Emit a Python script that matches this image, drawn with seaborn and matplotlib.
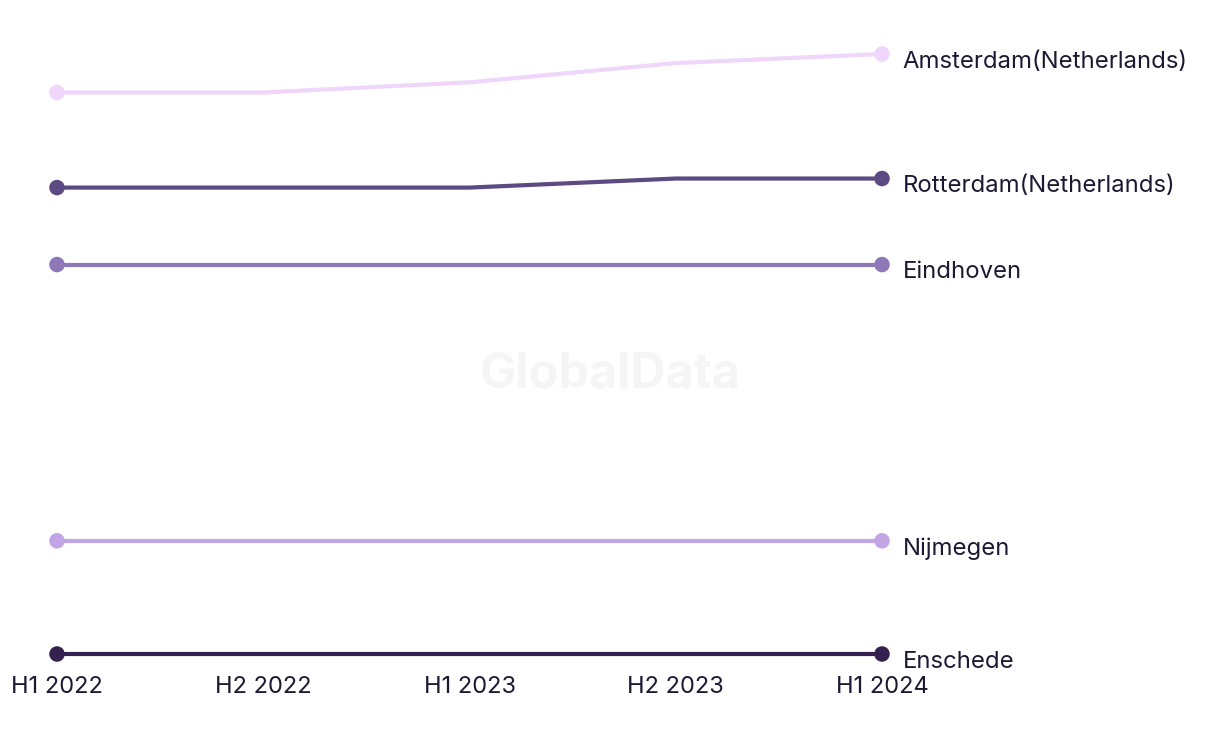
import numpy as np
import pandas as pd
import matplotlib.pyplot as plt
import seaborn as sns

# Chart values (index)
periods = ['H1 2022', 'H2 2022', 'H1 2023', 'H2 2023', 'H1 2024']
cities = ['Amsterdam(Netherlands)', 'Rotterdam(Netherlands)', 'Eindhoven', 'Nijmegen', 'Enschede']
amsterdam = [54.6, 54.6, 55.5, 57.2, 58.0]
rotterdam = [46.2, 46.2, 46.2, 47.0, 47.0]
eindhoven = [39.4, 39.4, 39.4, 39.4, 39.4]
nijmegen = [15.0, 15.0, 15.0, 15.0, 15.0]
enschede = [5.0, 5.0, 5.0, 5.0, 5.0]
colors = ['#f0d6fb', '#5c4a82', '#8e78b7', '#c2a5e4', '#35214f']

series = [amsterdam, rotterdam, eindhoven, nijmegen, enschede]
rows = []
for city, vals in zip(cities, series):
    for i, v in enumerate(vals):
        rows.append({'city': city, 'pos': i, 'period': periods[i], 'value': v})
data = pd.DataFrame(rows)

sns.set_style('white')
plt.rcParams['font.family'] = ['Inter', 'DejaVu Sans']
text_color = '#1c1a33'

fig = plt.figure(figsize=(12.2, 7.44), dpi=100)
ax = fig.add_axes([57 / 1220, 90 / 744, 825 / 1220, 600 / 744])

sns.lineplot(data=data, x='pos', y='value', hue='city', hue_order=cities,
             palette=colors, linewidth=3, legend=False, ax=ax, clip_on=False)

# markers only at the two ends
ends = data[data['pos'].isin([0, len(periods) - 1])]
sns.scatterplot(data=ends, x='pos', y='value', hue='city', hue_order=cities,
                palette=colors, s=125, edgecolor='none', legend=False, ax=ax,
                clip_on=False, zorder=5)

for city, vals, c in zip(cities, series, colors):
    ax.annotate(city, xy=(len(periods) - 1, vals[-1]), xytext=(15, -5.5),
                textcoords='offset points', ha='left', va='center',
                fontsize=17.2, color=text_color, annotation_clip=False)

ax.text(0.5, 0.497, 'GlobalData', transform=fig.transFigure, ha='center', va='center',
        fontsize=35, fontweight='bold', color='#f5f5f5', zorder=0)

ax.set_xlim(0, len(periods) - 1)
ax.set_ylim(5, 58)
ax.set_xticks(range(len(periods)))
ax.set_xticklabels(periods, fontsize=17, color=text_color)
ax.set_yticks([])
ax.set_xlabel('')
ax.set_ylabel('')
ax.tick_params(axis='x', length=0, pad=16)
sns.despine(ax=ax, left=True, bottom=True)

plt.savefig('out.png', dpi=100)
